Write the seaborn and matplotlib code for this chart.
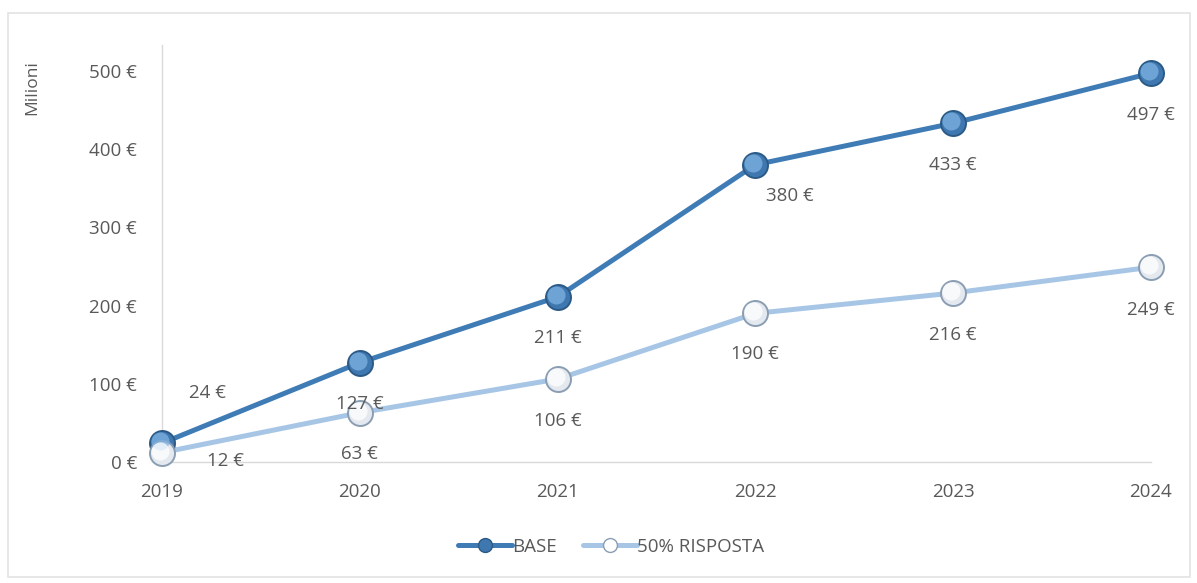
import matplotlib
matplotlib.use("Agg")
import matplotlib.pyplot as plt
from matplotlib.patches import Rectangle
from matplotlib.lines import Line2D
from matplotlib.transforms import offset_copy
import seaborn as sns
import pandas as pd

years = ["2019", "2020", "2021", "2022", "2023", "2024"]
base_vals = [24, 127, 211, 380, 433, 497]
risposta_vals = [12, 63, 106, 190, 216, 249]
series_names = ["BASE", "50% RISPOSTA"]
y_ticks = [0, 100, 200, 300, 400, 500]

sns.set_theme(style="white")
plt.rcParams["font.family"] = ["Open Sans", "DejaVu Sans"]

TXT = "#595959"
FS = 13.5
BASE_LINE = "#3f7cb6"
BASE_FACE = "#3f78b0"
BASE_EDGE = "#2b5a86"
BASE_HL = "#7fb2e2"
RISP_LINE = "#a7c6e6"
RISP_FACE = "#e4e9ef"
RISP_EDGE = "#8a9db2"
RISP_HL = "#ffffff"

df = pd.DataFrame({
    "pos": list(range(len(years))) * 2,
    "value": base_vals + risposta_vals,
    "serie": [series_names[0]] * len(years) + [series_names[1]] * len(years),
})

fig = plt.figure(figsize=(11.97, 5.83), dpi=100)
ax = fig.add_axes([162 / 1197, 1 - 462 / 583, (1151 - 162) / 1197, (462 - 45) / 583])

sns.lineplot(data=df, x="pos", y="value", hue="serie",
             palette={series_names[0]: BASE_LINE, series_names[1]: RISP_LINE},
             linewidth=3.6, legend=False, ax=ax, zorder=2)

# spherical-looking markers: body + offset soft highlight
hl_trans = offset_copy(ax.transData, fig=fig, x=-1.5, y=1.5, units="points")
for vals, face, edge, hl in [(base_vals, BASE_FACE, BASE_EDGE, BASE_HL),
                             (risposta_vals, RISP_FACE, RISP_EDGE, RISP_HL)]:
    xs = list(range(len(vals)))
    ax.plot(xs, vals, linestyle="none", marker="o", markersize=18,
            markerfacecolor=face, markeredgecolor=edge, markeredgewidth=1.4,
            clip_on=False, zorder=4)
    ax.plot(xs, vals, linestyle="none", marker="o", markersize=13,
            markerfacecolor=hl, markeredgewidth=0, alpha=0.75,
            clip_on=False, zorder=5, transform=hl_trans)

# data labels (offsets in points)
base_offsets = [(33, 36), (0, -30), (0, -29.5), (25, -22.5), (0, -30), (0, -30)]
risp_offsets = [(46, -6), (0, -30), (0, -30), (0, -29), (0, -30), (0, -31)]
for i, v in enumerate(base_vals):
    ax.annotate(f"{v} €", (i, v), xytext=base_offsets[i], textcoords="offset points",
                ha="center", va="center", fontsize=FS, color=TXT, zorder=6)
for i, v in enumerate(risposta_vals):
    ax.annotate(f"{v} €", (i, v), xytext=risp_offsets[i], textcoords="offset points",
                ha="center", va="center", fontsize=FS, color=TXT, zorder=6)

ax.set_xlim(0, len(years) - 1)
ax.set_ylim(0, 533)
ax.set_xticks(range(len(years)))
ax.set_xticklabels(years)
ax.set_yticks(y_ticks)
ax.set_yticklabels([f"{t} €" for t in y_ticks])
ax.tick_params(axis="both", colors=TXT, labelsize=FS, length=0)
ax.tick_params(axis="y", pad=18)
ax.tick_params(axis="x", pad=15)
ax.set_xlabel("")
ax.set_ylabel("")
for s in ["top", "right"]:
    ax.spines[s].set_visible(False)
for s in ["left", "bottom"]:
    ax.spines[s].set_color("#d9d9d9")
    ax.spines[s].set_linewidth(1.0)

fig.text(32 / 1197, 1 - 88 / 583, "Milioni", rotation=90, ha="center", va="center",
         fontsize=12.5, color=TXT)

# chart border
fig.patches.append(Rectangle((8 / 1197, 1 - 577 / 583), (1190 - 8) / 1197, (577 - 13) / 583,
                             transform=fig.transFigure, fill=False,
                             edgecolor="#e3e3e3", linewidth=1.2))

handles = [
    Line2D([], [], color=BASE_LINE, linewidth=3.6, marker="o", markersize=10,
           markerfacecolor=BASE_FACE, markeredgecolor=BASE_EDGE),
    Line2D([], [], color=RISP_LINE, linewidth=3.6, marker="o", markersize=10,
           markerfacecolor=RISP_HL, markeredgecolor=RISP_EDGE),
]
fig.legend(handles, series_names, loc="center", bbox_to_anchor=(611 / 1197, 1 - 547 / 583),
           ncol=2, frameon=False, fontsize=FS, labelcolor=TXT, handlelength=2.9,
           handletextpad=0.0, columnspacing=1.4)

fig.savefig("out.png", dpi=100, facecolor="white")
